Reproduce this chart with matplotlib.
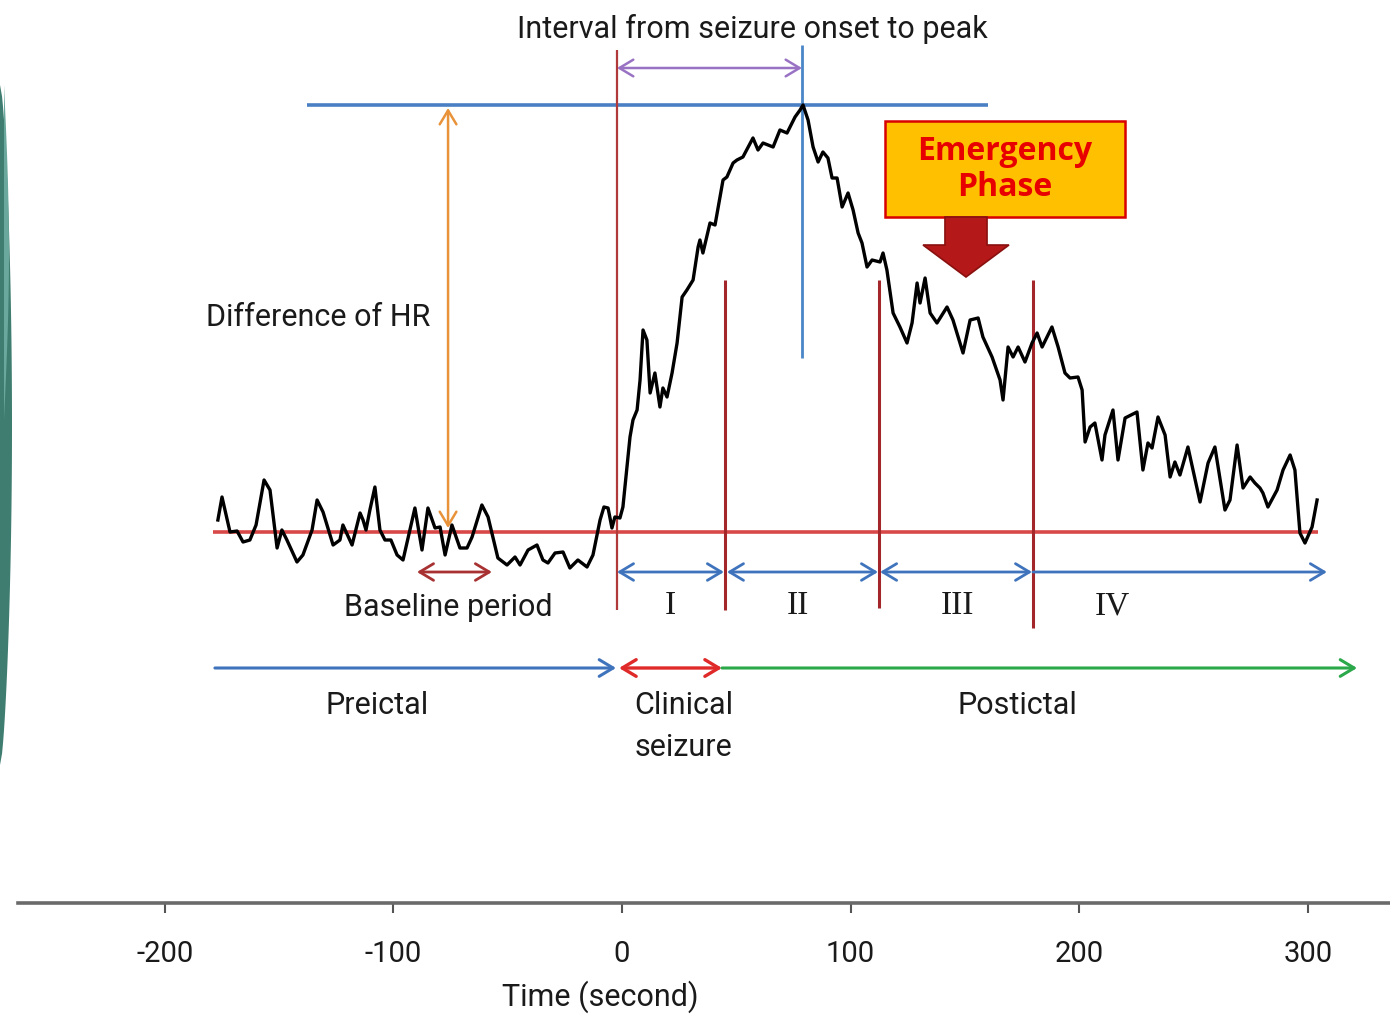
import matplotlib
matplotlib.use("Agg")
import matplotlib.pyplot as plt
from matplotlib.patches import Polygon, Rectangle
import numpy as np

# ---------------- data ----------------
time_s = [-176.8, -175.0, -171.5, -168.4, -165.8, -162.8, -160.1, -156.6, -154.0, -150.9,
          -148.8, -146.6, -142.2, -139.6, -135.6, -133.4, -130.8, -126.4, -123.4, -122.1,
          -118.1, -114.6, -113.3, -112.0, -110.3, -108.1, -105.9, -103.7, -101.1, -98.4,
          -95.8, -90.6, -87.5, -84.9, -81.8, -79.6, -77.4, -74.4, -70.9, -67.8,
          -65.6, -61.3, -58.6, -54.3, -50.3, -46.8, -44.6, -41.1, -37.2, -34.6,
          -32.4, -29.3, -25.8, -22.8, -19.3, -15.3, -12.7, -9.6, -7.9, -6.1,
          -4.4, -3.1, -0.9, 0.4, 3.5, 4.8, 6.6, 7.9, 9.2, 10.9,
          12.3, 14.4, 16.6, 17.9, 19.7, 21.9, 24.1, 26.3, 28.4, 31.1,
          33.3, 34.1, 35.4, 38.5, 40.7, 44.2, 45.9, 48.6, 50.3, 52.9,
          57.3, 59.5, 61.7, 66.1, 69.1, 72.2, 75.7, 77.9, 79.2, 81.4,
          83.6, 85.8, 87.9, 90.1, 91.9, 94.1, 96.3, 98.9, 101.1, 103.3,
          105.0, 107.2, 109.4, 112.9, 114.2, 115.9, 118.6, 121.6, 124.7, 126.9,
          129.1, 130.4, 132.6, 134.8, 137.8, 142.2, 144.8, 149.2, 152.3, 155.8,
          157.9, 161.9, 165.4, 166.7, 168.9, 171.1, 173.3, 176.3, 179.4, 181.6,
          183.8, 186.4, 188.1, 190.8, 193.8, 196.0, 199.5, 201.3, 202.6, 204.8,
          206.9, 210.0, 211.3, 214.8, 217.0, 220.1, 225.3, 227.9, 230.1, 231.9,
          234.5, 237.6, 239.8, 241.9, 244.1, 247.6, 252.9, 256.4, 259.4, 263.8,
          266.0, 269.1, 271.7, 274.8, 276.9, 279.1, 280.4, 282.6, 286.6, 289.2,
          292.3, 294.4, 296.6, 298.8, 301.9, 304.1]
heart_rate = [81.2, 83.5, 80.0, 80.1, 79.0, 79.2, 80.7, 85.2, 84.2, 78.4,
              80.2, 79.2, 77.0, 77.7, 80.2, 83.2, 82.0, 78.7, 79.2, 80.7,
              78.7, 81.9, 81.2, 80.2, 82.2, 84.5, 80.2, 79.2, 79.2, 77.7,
              77.2, 82.4, 78.2, 82.4, 80.4, 80.5, 77.7, 80.7, 78.4, 78.4,
              79.5, 82.7, 81.5, 77.4, 76.7, 77.5, 76.7, 78.2, 78.7, 77.2,
              76.9, 77.9, 78.0, 76.4, 77.2, 76.5, 77.7, 81.2, 82.5, 82.4,
              80.4, 81.5, 81.4, 82.5, 89.5, 91.2, 92.2, 95.2, 100.2, 99.2,
              93.9, 95.9, 92.5, 94.4, 93.5, 95.9, 98.9, 103.5, 104.2, 105.2,
              108.5, 109.2, 107.9, 110.9, 110.7, 115.2, 115.5, 116.9, 117.2, 117.5,
              119.4, 118.2, 118.9, 118.5, 120.2, 119.9, 121.5, 122.2, 122.7, 121.2,
              118.5, 117.0, 118.0, 117.4, 115.4, 115.4, 112.5, 113.9, 112.2, 109.9,
              108.9, 106.5, 107.2, 107.0, 107.9, 106.2, 101.9, 100.5, 98.9, 100.9,
              104.9, 102.9, 105.4, 101.9, 100.9, 102.5, 101.2, 97.9, 101.2, 101.4,
              99.5, 97.5, 95.2, 93.2, 98.5, 97.5, 98.5, 97.0, 98.9, 99.9,
              98.5, 99.7, 100.5, 98.5, 95.9, 95.4, 95.5, 94.2, 89.0, 90.5,
              90.9, 87.2, 89.7, 92.2, 87.2, 91.4, 92.0, 86.2, 88.9, 88.4,
              91.5, 89.7, 85.5, 87.0, 85.7, 88.5, 83.0, 86.9, 88.5, 82.2,
              83.2, 88.7, 84.4, 85.5, 84.9, 84.4, 83.9, 82.5, 84.2, 86.2,
              87.7, 86.2, 79.9, 78.9, 80.5, 83.2]

baseline_hr = 80.0
peak_hr = 122.7
onset_t = -2.2
peak_t = 78.75
phase_bounds = [45.1, 112.4, 179.8]
phase_labels = ["I", "II", "III", "IV"]
phase_label_t = [21.0, 77.0, 146.6, 214.4]
x_ticks = [-200, -100, 0, 100, 200, 300]

# ---------------- figure ----------------
fig = plt.figure(figsize=(13.9, 10.19), dpi=100)
ax = fig.add_axes([0, 0, 1, 1])
ax.set_xlim(-272.125, 336.0)
ax.set_ylim(31.3, 133.2)

FONT = ["Roboto", "DejaVu Sans"]
tc = "#1a1a1a"

# left teal decoration (slide background)
px2t = lambda p: (p - 622) * 0.4375
py2h = lambda p: 80 + (532 - p) / 10
yy = np.linspace(85, 765, 60)
w = 12 * np.sin(np.pi * (yy - 85) / 680) ** 0.6
ax.add_patch(Polygon(np.column_stack([px2t(np.r_[0, w, 0]), py2h(np.r_[85, yy, 765])]),
                     closed=True, facecolor="#3f7d70", edgecolor="none", zorder=1))
yy2 = np.linspace(85, 420, 30)
w2 = 5 * np.sin(np.pi * (yy2 - 85) / 335)
ax.add_patch(Polygon(np.column_stack([px2t(np.r_[4, 4 + w2, 4]), py2h(np.r_[85, yy2, 420])]),
                     closed=True, facecolor="#6aa79c", edgecolor="none", zorder=1))

# reference lines
ax.hlines(baseline_hr, -178.9, 304.5, color="#d94848", lw=2.6, zorder=2)
ax.hlines(peak_hr, -137.8, 160.1, color="#4a7fc4", lw=2.6, zorder=2)
ax.vlines(onset_t, 72.2, 128.2, color="#b03a3a", lw=1.6, zorder=2)
ax.vlines(peak_t, 97.4, 128.7, color="#4a86c8", lw=2.0, zorder=2)
ax.vlines(phase_bounds[0], 72.2, 105.2, color="#a3262b", lw=2.2, zorder=2)
ax.vlines(phase_bounds[1], 72.4, 105.2, color="#a3262b", lw=2.2, zorder=2)
ax.vlines(phase_bounds[2], 70.4, 105.2, color="#a3262b", lw=2.2, zorder=2)

# heart-rate trace
ax.plot(time_s, heart_rate, color="black", lw=2.4, zorder=4, solid_joinstyle="round")


def arrow(x0, y0, x1, y1, color, style="<->", lw=2.0, hl=1.0, hw=0.6):
    ax.annotate("", xy=(x1, y1), xytext=(x0, y0),
                arrowprops=dict(arrowstyle=f"{style},head_length={hl},head_width={hw}",
                                color=color, lw=lw, shrinkA=0, shrinkB=0),
                zorder=3)


# difference of HR arrow
arrow(-76.1, 80.4, -76.1, 122.4, "#e8923a", lw=1.8)
# interval arrow
arrow(onset_t, 126.4, peak_t, 126.4, "#9a72c4", lw=1.8)
# baseline period arrow
arrow(-89.7, 76.0, -56.9, 76.0, "#a83232", lw=2.0)
# phase arrows
blue = "#3f74bd"
arrow(onset_t, 76.0, 44.6, 76.0, blue)
arrow(45.9, 76.0, 112.0, 76.0, blue)
arrow(112.9, 76.0, 179.4, 76.0, blue)
arrow(179.8, 76.0, 308.4, 76.0, blue, style="->")
# preictal / clinical / postictal arrows
arrow(-178.1, 66.4, -2.6, 66.4, blue, style="->", lw=2.2)
arrow(-1.3, 66.4, 43.75, 66.4, "#e02a2a", lw=2.4)
arrow(43.75, 66.4, 321.6, 66.4, "#2aa84a", style="->", lw=2.2)

fs = 22
ax.text(56.9, 130.3, "Interval from seizure onset to peak", ha="center", va="center",
        fontsize=fs, family=FONT, color=tc)
ax.text(-133.0, 101.4, "Difference of HR", ha="center", va="center", fontsize=fs,
        family=FONT, color=tc)
ax.text(-76.1, 72.5, "Baseline period", ha="center", va="center", fontsize=fs,
        family=FONT, color=tc)
for lab, t in zip(phase_labels, phase_label_t):
    ax.text(t, 72.6, lab, ha="center", va="center", fontsize=24,
            family=["Liberation Serif", "DejaVu Serif"], color=tc)
ax.text(-107.2, 62.7, "Preictal", ha="center", va="center", fontsize=fs, family=FONT, color=tc)
ax.text(27.1, 60.55, "Clinical\nseizure", ha="center", va="center", fontsize=fs,
        family=FONT, color=tc, linespacing=1.55)
ax.text(172.8, 62.7, "Postictal", ha="center", va="center", fontsize=fs, family=FONT, color=tc)

# Emergency phase box
ax.add_patch(Rectangle((115.1, 111.5), 105.0, 9.6, facecolor="#FFC000",
                       edgecolor="#D80000", lw=1.8, zorder=5))
ax.text(167.6, 116.2, "Emergency\nPhase", ha="center", va="center", fontsize=23,
        fontweight="bold", family=["Open Sans", "DejaVu Sans"], color="#E80000",
        linespacing=1.12, zorder=6)
ax.add_patch(Polygon([(141.3, 111.5), (159.7, 111.5), (159.7, 108.7), (169.3, 108.7),
                      (150.5, 105.5), (131.7, 108.7), (141.3, 108.7)], closed=True,
                     facecolor="#B41818", edgecolor="#8a1010", lw=1.2, zorder=5))

# time axis
for s in ["top", "left", "right"]:
    ax.spines[s].set_visible(False)
ax.spines["bottom"].set_position(("data", 42.9))
ax.spines["bottom"].set_bounds(-264.25, 336.0)
ax.spines["bottom"].set_color("#6a6a6a")
ax.spines["bottom"].set_linewidth(2.6)
ax.set_yticks([])
ax.set_xticks(x_ticks)
ax.set_xticklabels([str(v) for v in x_ticks])
ax.tick_params(axis="x", direction="out", length=7, width=1.5, color="#555555",
               labelsize=21, pad=20, labelcolor=tc)
for lbl in ax.get_xticklabels():
    lbl.set_family(FONT)
ax.set_xlabel("Time (second)", fontsize=22, family=FONT, color=tc)
ax.xaxis.set_label_coords(600 / 1390, 1 - 997 / 1019)
ax.xaxis.label.set_va("center")
ax.patch.set_facecolor("white")

fig.savefig("out.png", dpi=100, facecolor="white")
